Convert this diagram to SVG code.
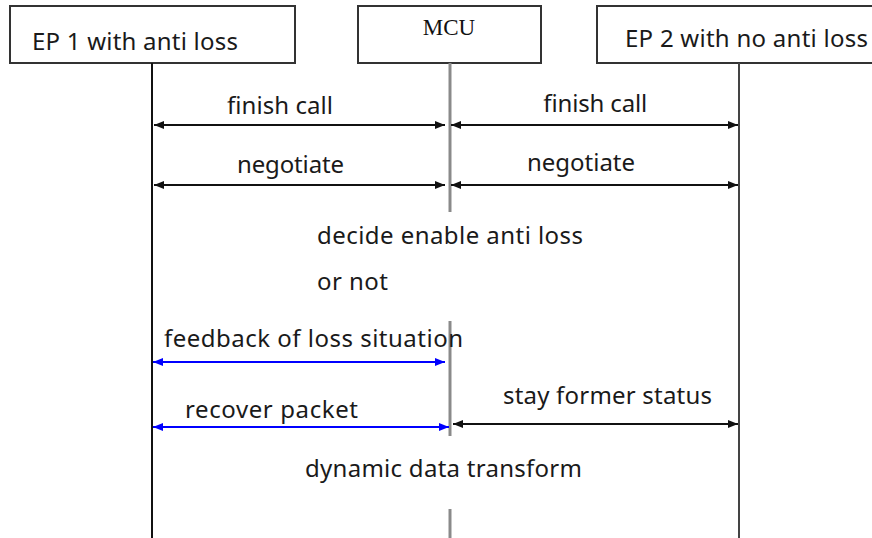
<svg xmlns="http://www.w3.org/2000/svg" width="872" height="538" viewBox="0 0 872 538">
  <style>
    .box { fill: #ffffff; stroke: #333333; stroke-width: 2; }
    .lbl { font-family: "Noto Sans", "Open Sans", sans-serif; font-size: 24px; fill: #1a1a1a; }
    .mcu { font-family: "Liberation Serif", serif; font-size: 23px; fill: #111111; }
    .life-ep1 { stroke: #111111; stroke-width: 2; }
    .life-mcu { stroke: #8a8a8a; stroke-width: 3; }
    .life-ep2 { stroke: #444444; stroke-width: 2; }
    .msg { stroke: #111111; stroke-width: 2; fill: none; marker-start: url(#arrL); marker-end: url(#arrR); }
    .msg-blue { stroke: #0000ff; stroke-width: 2; fill: none; marker-start: url(#arrLb); marker-end: url(#arrRb); }
  </style>
  <defs>
    <marker id="arrR" viewBox="0 0 10 8" refX="10" refY="4" markerWidth="10" markerHeight="8" markerUnits="userSpaceOnUse" orient="auto">
      <path d="M0,0 L10,4 L0,8 z" fill="#111111"/>
    </marker>
    <marker id="arrL" viewBox="0 0 10 8" refX="0" refY="4" markerWidth="10" markerHeight="8" markerUnits="userSpaceOnUse" orient="auto">
      <path d="M10,0 L0,4 L10,8 z" fill="#111111"/>
    </marker>
    <marker id="arrRb" viewBox="0 0 10 8" refX="10" refY="4" markerWidth="10" markerHeight="8" markerUnits="userSpaceOnUse" orient="auto">
      <path d="M0,0 L10,4 L0,8 z" fill="#0000ff"/>
    </marker>
    <marker id="arrLb" viewBox="0 0 10 8" refX="0" refY="4" markerWidth="10" markerHeight="8" markerUnits="userSpaceOnUse" orient="auto">
      <path d="M10,0 L0,4 L10,8 z" fill="#0000ff"/>
    </marker>
  </defs>

  <rect width="872" height="538" fill="#ffffff"/>

  <!-- participants -->
  <g id="ep1">
    <rect class="box" x="10" y="6" width="285" height="57"/>
    <text class="lbl" x="32" y="50" textLength="206">EP 1 with anti loss</text>
    <line class="life-ep1" x1="152" y1="63" x2="152" y2="538"/>
  </g>
  <g id="mcu">
    <rect class="box" x="358" y="6" width="183" height="57"/>
    <text class="mcu" x="449" y="35" text-anchor="middle">MCU</text>
    <line class="life-mcu" x1="450" y1="63" x2="450" y2="212"/>
    <line class="life-mcu" x1="450" y1="321" x2="450" y2="436"/>
    <line class="life-mcu" x1="450" y1="509" x2="450" y2="538"/>
  </g>
  <g id="ep2">
    <rect class="box" x="597" y="6" width="285" height="57"/>
    <text class="lbl" x="625" y="47" textLength="243">EP 2 with no anti loss</text>
    <line class="life-ep2" x1="739" y1="63" x2="739" y2="538"/>
  </g>

  <!-- messages -->
  <g id="connectors">
    <line class="msg" x1="154" y1="125" x2="445" y2="125"/>
    <line class="msg" x1="451" y1="125" x2="738" y2="125"/>
    <line class="msg" x1="154" y1="185" x2="445" y2="185"/>
    <line class="msg" x1="451" y1="185" x2="738" y2="185"/>
    <line class="msg-blue" x1="153" y1="362" x2="445" y2="362"/>
    <line class="msg-blue" x1="153" y1="427" x2="449" y2="427"/>
    <line class="msg" x1="453" y1="424" x2="738" y2="424"/>
  </g>

  <g id="labels">
    <text class="lbl" x="227" y="114" textLength="106">finish call</text>
    <text class="lbl" x="543" y="112" textLength="104">finish call</text>
    <text class="lbl" x="237" y="173" textLength="107">negotiate</text>
    <text class="lbl" x="527" y="171" textLength="108">negotiate</text>
    <text class="lbl" x="317" y="244" textLength="266">decide enable anti loss</text>
    <text class="lbl" x="317" y="290" textLength="71">or not</text>
    <text class="lbl" x="164" y="347" textLength="299">feedback of loss situation</text>
    <text class="lbl" x="185" y="418" textLength="173">recover packet</text>
    <text class="lbl" x="503" y="404" textLength="209">stay former status</text>
    <text class="lbl" x="305" y="477" textLength="277">dynamic data transform</text>
  </g>
</svg>
